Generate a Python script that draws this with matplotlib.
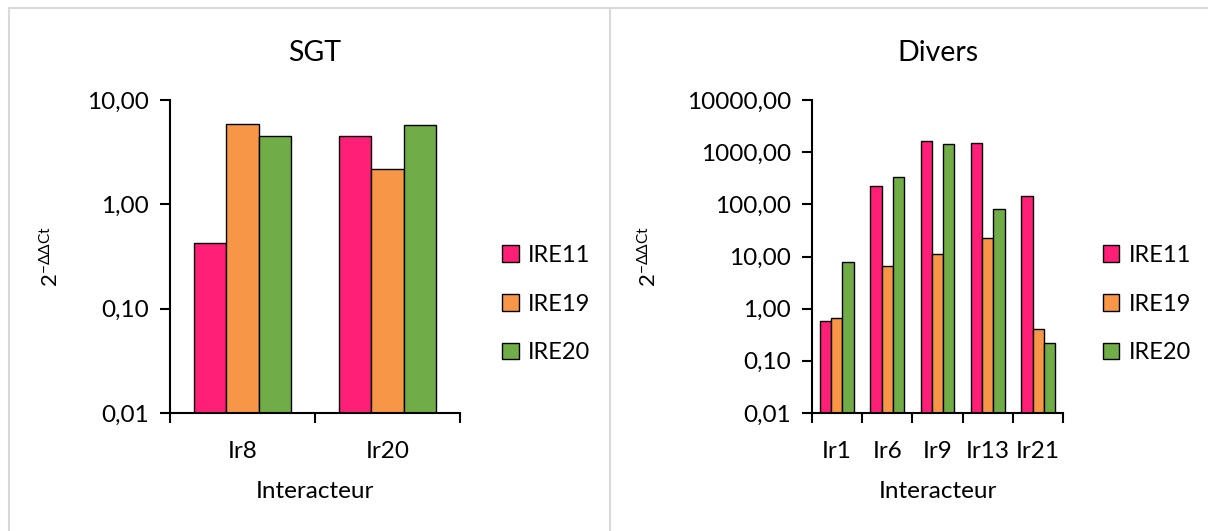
import matplotlib
matplotlib.use("Agg")
import matplotlib.pyplot as plt
import numpy as np
from matplotlib.lines import Line2D
from matplotlib.ticker import FixedLocator, FuncFormatter, NullLocator

plt.rcParams['font.family'] = ['Lato', 'DejaVu Sans']
plt.rcParams['mathtext.fontset'] = 'custom'
plt.rcParams['mathtext.rm'] = 'Lato'

series = ["IRE11", "IRE19", "IRE20"]
colors = ["#FF1F77", "#F79646", "#70AD47"]

sgt_cats = ["Ir8", "Ir20"]
sgt_ire11 = [0.42, 4.5]
sgt_ire19 = [5.9, 2.15]
sgt_ire20 = [4.5, 5.7]

div_cats = ["Ir1", "Ir6", "Ir9", "Ir13", "Ir21"]
div_ire11 = [0.58, 227, 1615, 1480, 146]
div_ire19 = [0.65, 6.7, 11.2, 22.3, 0.40]
div_ire20 = [7.9, 340, 1410, 80, 0.21]


def comma_fmt(v, pos):
    return f"{v:.2f}".replace(".", ",")


def bar_panel(ax, title, cats, values, ymax):
    n = len(cats)
    x = np.arange(n)
    w = 0.223
    for i, (vals, name, col) in enumerate(zip(values, series, colors)):
        ax.bar(x + (i - 1) * w, vals, w, bottom=0.01, color=col, edgecolor="black",
               linewidth=1.0, label=name, zorder=2)
    ax.set_yscale("log")
    ax.set_ylim(0.01, ymax)
    ax.set_xlim(-0.5, n - 0.5)
    ax.yaxis.set_major_locator(FixedLocator(10.0 ** np.arange(-2, np.log10(ymax) + 1)))
    ax.yaxis.set_minor_locator(NullLocator())
    ax.yaxis.set_major_formatter(FuncFormatter(comma_fmt))
    # ticks on category boundaries, labels on centres
    ax.set_xticks(np.arange(n + 1) - 0.5)
    ax.set_xticklabels([""] * (n + 1))
    ax.set_xticks(x, minor=True)
    ax.set_xticklabels(cats, minor=True)
    ax.tick_params(axis="x", which="minor", length=0, pad=20, labelsize=17.5)
    ax.tick_params(axis="x", which="major", length=7, width=1.5, direction="out")
    ax.tick_params(axis="y", which="major", length=7, width=1.5, labelsize=17.5, pad=8)
    for s in ["top", "right"]:
        ax.spines[s].set_visible(False)
    for s in ["left", "bottom"]:
        ax.spines[s].set_linewidth(1.5)
    ax.set_title(title, fontsize=20.5, pad=28)
    ax.set_xlabel("Interacteur", fontsize=17.5, labelpad=14)
    ax.set_ylabel(r"$\mathregular{2^{-\Delta\Delta Ct}}$", fontsize=16)
    ax.legend(loc="center left", bbox_to_anchor=(1.072, 0.348), frameon=False,
              fontsize=17, handlelength=0.7, handleheight=0.7,
              handletextpad=0.4, labelspacing=1.17)


fig = plt.figure(figsize=(12.08, 5.31), dpi=100)
ax1 = fig.add_axes([170 / 1208, 118 / 531, 290 / 1208, 313 / 531])
ax2 = fig.add_axes([811.7 / 1208, 118 / 531, 251.6 / 1208, 313 / 531])

bar_panel(ax1, "SGT", sgt_cats, [sgt_ire11, sgt_ire19, sgt_ire20], 10)
bar_panel(ax2, "Divers", div_cats, [div_ire11, div_ire19, div_ire20], 10000)
ax1.yaxis.set_label_coords(-0.37, 0.5)
ax2.yaxis.set_label_coords(-0.6, 0.5)

# panel frames
grey = "#D9D9D9"
fig.add_artist(Line2D([9 / 1208, 1], [1 - 8 / 531, 1 - 8 / 531], color=grey, lw=1.5))
fig.add_artist(Line2D([9 / 1208, 9 / 1208], [0, 1 - 8 / 531], color=grey, lw=1.5))
fig.add_artist(Line2D([610 / 1208, 610 / 1208], [0, 1 - 8 / 531], color=grey, lw=1.5))

fig.savefig("out.png", dpi=100)
